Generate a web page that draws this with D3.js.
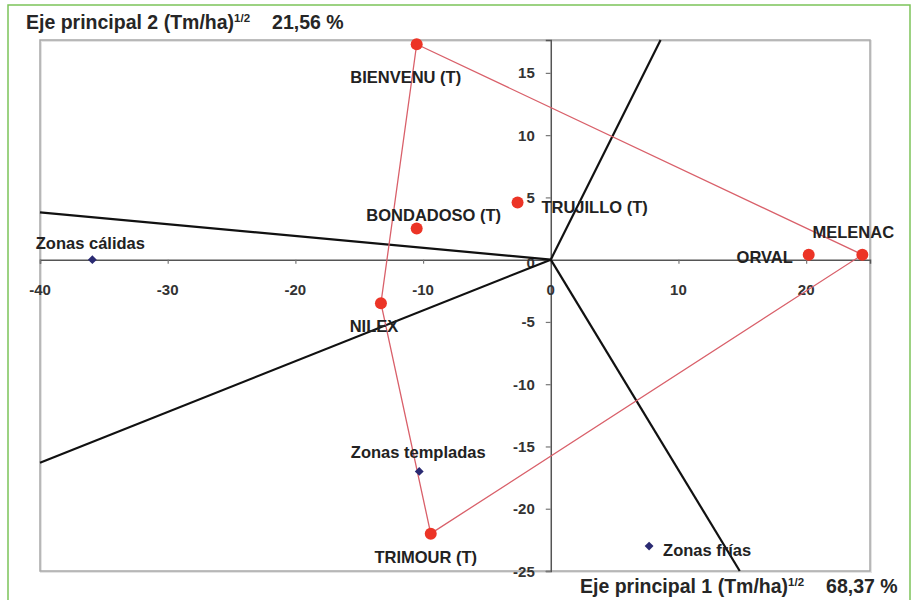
<!DOCTYPE html>
<html><head><meta charset="utf-8">
<script src="https://cdn.jsdelivr.net/npm/d3@7"></script>
<style>body{margin:0;background:#fff}svg{display:block}</style>
</head><body><svg id="c" width="917" height="600"></svg>
<script>
// ---- data ----
const genotypes = ["BIENVENU (T)","BONDADOSO (T)","TRUJILLO (T)","ORVAL","MELENAC","NILEX","TRIMOUR (T)"];
const genoX = [-10.5,-10.5,-2.6,20.2,24.4,-13.3,-9.4];
const genoY = [17.3,2.5,4.6,0.4,0.4,-3.5,-22.0];
const zones = ["Zonas cálidas","Zonas templadas","Zonas frías"];
const zoneX = [-35.9,-10.3,7.7];
const zoneY = [0,-17.0,-23.0];
const hullOrder = ["BIENVENU (T)","MELENAC","TRIMOUR (T)","NILEX","BIENVENU (T)"];
const rayX = [-40,-40,8.6,14.8];
const rayY = [3.8,-16.3,17.64,-25];
const xTicks = [-40,-30,-20,-10,0,10,20];
const yTicks = [-25,-20,-15,-10,-5,0,5,10,15];
const xTitle = ["Eje principal 1 (Tm/ha)","1/2","68,37 %"];
const yTitle = ["Eje principal 2 (Tm/ha)","1/2","21,56 %"];

// ---- layout / style ----
const labelOffset = {
  "BIENVENU (T)":[-11,39], "BONDADOSO (T)":[17,-8], "TRUJILLO (T)":[77,11],
  "ORVAL":[-44,8], "MELENAC":[-9,-17], "NILEX":[-7,29], "TRIMOUR (T)":[-5,29],
  "Zonas cálidas":[-2,-11], "Zonas templadas":[-1,-13], "Zonas frías":[58,10]
};
const FONT = "'Liberation Sans', Arial, sans-serif";
const svg = d3.select("#c");
const x = d3.scaleLinear().domain([-40,25]).range([40,870]);
const y = d3.scaleLinear().domain([-25,17.64]).range([571,40]);

// outer green frame
svg.append("rect").attr("x",8).attr("y",5).attr("width",902).attr("height",620)
  .attr("fill","none").attr("stroke","#7cc35a").attr("stroke-width",1.5);

// plot border
svg.append("rect").attr("x",x(-40)+1).attr("y",y(17.64)+1).attr("width",x(25)-x(-40)).attr("height",y(-25)-y(17.64))
  .attr("fill","none").attr("stroke","#e4e4e4").attr("stroke-width",2);
svg.append("rect").attr("x",x(-40)).attr("y",y(17.64)).attr("width",x(25)-x(-40)).attr("height",y(-25)-y(17.64))
  .attr("fill","none").attr("stroke","#a8a8a8").attr("stroke-width",1.5);

// axes through origin
const xAxis = d3.axisBottom(x).tickValues(xTicks).tickSize(4).tickFormat("");
const yAxis = d3.axisLeft(y).tickValues(yTicks).tickSize(5).tickFormat("");
const gx = svg.append("g").attr("transform",`translate(0,${y(0)})`).call(xAxis);
const gy = svg.append("g").attr("transform",`translate(${x(0)},0)`).call(yAxis);
[gx,gy].forEach(g=>{g.select(".domain").attr("stroke","#555").attr("stroke-width",1.5);
  g.selectAll(".tick line").attr("stroke","#777").attr("stroke-width",1.2);});

// tick labels
svg.append("g").selectAll("text").data(xTicks).join("text")
  .attr("x",d=>x(d)).attr("y",y(0)+35).attr("text-anchor","middle")
  .attr("font-family",FONT).attr("font-weight","bold").attr("font-size",15).attr("fill","#333")
  .text(d=>d);
svg.append("g").selectAll("text").data(yTicks).join("text")
  .attr("x",x(0)-16).attr("y",d=>d===0?y(d)+8:y(d)+5.5).attr("text-anchor","end")
  .attr("font-family",FONT).attr("font-weight","bold").attr("font-size",15).attr("fill","#333")
  .text(d=>d);

// rays from origin
svg.append("g").selectAll("line").data(rayX).join("line")
  .attr("x1",x(0)).attr("y1",y(0)).attr("x2",(d)=>x(d)).attr("y2",(d,i)=>y(rayY[i]))
  .attr("stroke","#111").attr("stroke-width",2.2);

// hull polygon
const gIdx = n => genotypes.indexOf(n);
svg.append("path")
  .attr("d",d3.line().x(n=>x(genoX[gIdx(n)])).y(n=>y(genoY[gIdx(n)]))(hullOrder))
  .attr("fill","none").attr("stroke","#d9606a").attr("stroke-width",1.3);

// genotype points
svg.append("g").selectAll("circle").data(genotypes).join("circle")
  .attr("cx",(d,i)=>x(genoX[i])).attr("cy",(d,i)=>y(genoY[i])).attr("r",6)
  .attr("fill","#ec3426");

// zone markers
svg.append("g").selectAll("path").data(zones).join("path")
  .attr("transform",(d,i)=>`translate(${x(zoneX[i])},${y(zoneY[i])})`)
  .attr("d",d3.symbol(d3.symbolDiamond2,50)).attr("fill","#2a2a72");

// labels
const allNames = genotypes.map((n,i)=>[n,genoX[i],genoY[i]]).concat(zones.map((n,i)=>[n,zoneX[i],zoneY[i]]));
svg.append("g").selectAll("text").data(allNames).join("text")
  .attr("x",d=>x(d[1])+labelOffset[d[0]][0]).attr("y",d=>y(d[2])+labelOffset[d[0]][1])
  .attr("text-anchor","middle").attr("font-family",FONT).attr("font-weight","bold")
  .attr("font-size",16.5).attr("fill","#222").text(d=>d[0]);

// axis titles
function title(t,xx,yy){
  const tx = svg.append("text").attr("x",xx).attr("y",yy).attr("font-family",FONT)
    .attr("font-weight","bold").attr("font-size",19.5).attr("fill","#262626");
  tx.append("tspan").text(t[0]);
  tx.append("tspan").attr("font-size",11.5).attr("dy",-7).text(t[1]);
  tx.append("tspan").attr("dy",7).attr("dx",22).text(t[2]);
}
title(yTitle,26,29);
title(xTitle,580,593);
</script></body></html>
